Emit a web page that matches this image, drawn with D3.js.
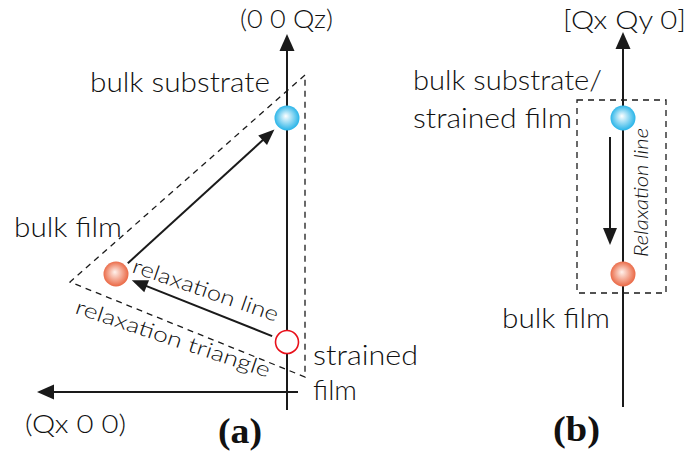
<!DOCTYPE html>
<html>
<head>
  <meta charset="utf-8">
  <title>Relaxation triangle sketch</title>
  <style>
  body { margin: 0px; background: #fff; }
  text { font-family: "Lato", "DejaVu Sans", sans-serif; font-weight: 300; fill: #111; }
  .axis { stroke: #1a1a1a; stroke-width: 2px; fill: none; }
  .arrow { stroke: #1a1a1a; stroke-width: 2px; fill: none; }
  .dash { stroke: #1a1a1a; stroke-width: 1.3px; fill: none; stroke-dasharray: 6,5; }
  .panel { font-family: "Liberation Serif", "Times New Roman", serif; font-weight: bold; }
  </style>
</head>
<body>
  <svg width="685" height="457"></svg>
  <script src="https://d3js.org/d3.v7.min.js"></script>
  <script>
  // reciprocal-space positions, arbitrary units (panel a: Qx along, Qz up)
  var pointNames = ["bulk substrate", "bulk film", "strained film"];
  var pointQx = [0, 6.84, 0];
  var pointQz = [10.96, 4.72, 2.0];
  var triangleQx = [-0.72, 8.68, -0.72];
  var triangleQz = [12.68, 4.4, 0.6];
  var axisAQx = [-0.44, 10];
  var axisAQz = [-0.72, 14.32];

  // panel b: in-plane [Qx Qy 0] direction
  var pointBNames = ["bulk substrate/strained film", "bulk film"];
  var pointBQ = [10.96, 4.72];
  var boxBSide = [-1.84, 1.72];
  var boxBQ = [3.96, 11.68];
  var axisBQ = [-0.6, 14.4];
  var relaxBOffset = -0.52;
  var relaxBQ = [10.2, 5.88];

  var svg = d3.select("svg");
  var xA = d3.scaleLinear().domain([0, 10]).range([287, 37]);
  var y = d3.scaleLinear().domain([0, 10]).range([392, 142]);
  var xB = d3.scaleLinear().domain([0, 1]).range([623, 648]);

  var defs = svg.append("defs");
  function grad(id, c0, c1) {
    var g = defs.append("radialGradient").attr("id", id)
      .attr("cx", "50%").attr("cy", "50%").attr("r", "55%")
      .attr("fx", "45%").attr("fy", "42%");
    g.append("stop").attr("offset", "0%").attr("stop-color", c0);
    g.append("stop").attr("offset", "100%").attr("stop-color", c1);
  }
  grad("blue", "#ffffff", "#14ade6");
  grad("orange", "#fff2ec", "#e85c36");

  function arrowLine(x1, y1, x2, y2, len, hw) {
    var dx = x2 - x1, dy = y2 - y1, d = Math.sqrt(dx * dx + dy * dy);
    var ux = dx / d, uy = dy / d;
    svg.append("line").attr("class", "arrow")
      .attr("x1", x1).attr("y1", y1)
      .attr("x2", x2 - ux * len * 0.7).attr("y2", y2 - uy * len * 0.7);
    var bx = x2 - ux * len, by = y2 - uy * len;
    svg.append("path")
      .attr("d", "M" + x2 + "," + y2 +
        "L" + (bx - uy * hw) + "," + (by + ux * hw) +
        "L" + (bx + uy * hw) + "," + (by - ux * hw) + "Z")
      .attr("fill", "#1a1a1a");
  }

  // ---------- panel (a) ----------
  svg.append("polygon").attr("class", "dash")
    .attr("points", triangleQx.map(function(q, i) { return xA(q) + "," + y(triangleQz[i]); }).join(" "));

  arrowLine(xA(0), y(axisAQz[0]), xA(0), y(axisAQz[1]), 17, 7.5);
  arrowLine(xA(axisAQx[0]), y(0), xA(axisAQx[1]), y(0), 17, 7.5);

  // arrows between the reciprocal lattice points
  function between(i, j, s0, s1) {
    var x1 = xA(pointQx[i]), y1 = y(pointQz[i]), x2 = xA(pointQx[j]), y2 = y(pointQz[j]);
    var dx = x2 - x1, dy = y2 - y1, d = Math.sqrt(dx * dx + dy * dy);
    arrowLine(x1 + dx / d * s0, y1 + dy / d * s0, x2 - dx / d * s1, y2 - dy / d * s1, 16, 6.5);
  }
  between(1, 0, 16, 17);
  between(2, 1, 16, 17);

  var fills = ["url(#blue)", "url(#orange)", "#fff"];
  svg.selectAll(".ptA").data(pointNames).enter().append("circle")
    .attr("class", "ptA")
    .attr("cx", function(d, i) { return xA(pointQx[i]); })
    .attr("cy", function(d, i) { return y(pointQz[i]); })
    .attr("r", function(d, i) { return i == 2 ? 11.5 : 12.5; })
    .attr("fill", function(d, i) { return fills[i]; })
    .attr("stroke", function(d, i) { return i == 2 ? "#e8101a" : "none"; })
    .attr("stroke-width", 1.6);

  function label(t, x, yy, size, len) {
    var el = svg.append("text").attr("x", x).attr("y", yy)
      .attr("font-size", size).text(t);
    if (len) el.attr("textLength", len).attr("lengthAdjust", "spacingAndGlyphs");
    return el;
  }
  label("(0 0 Qz)", 240, 28, 25, 93);
  label("bulk substrate", 90, 92, 27, 180);
  label("bulk film", 14, 237, 27, 108);
  label("strained", 313, 365, 27, 105);
  label("film", 313, 400, 27, 44);
  label("(Qx 0 0)", 25, 433, 25, 101);
  label("relaxation line", 0, 0, 21, 153)
    .attr("transform", "translate(131,272) rotate(19)");
  label("relaxation triangle", 0, 0, 21, 204)
    .attr("transform", "translate(74,313) rotate(18.5)");
  svg.append("text").attr("class", "panel").attr("x", 218).attr("y", 443)
    .attr("font-size", 35).attr("textLength", 44).attr("lengthAdjust", "spacingAndGlyphs")
    .text("(a)");

  // ---------- panel (b) ----------
  svg.append("rect").attr("class", "dash")
    .attr("x", xB(boxBSide[0])).attr("y", y(boxBQ[1]))
    .attr("width", xB(boxBSide[1]) - xB(boxBSide[0]))
    .attr("height", y(boxBQ[0]) - y(boxBQ[1]));

  arrowLine(xB(0), y(axisBQ[0]), xB(0), y(axisBQ[1]), 17, 7.5);
  arrowLine(xB(relaxBOffset), y(relaxBQ[0]), xB(relaxBOffset), y(relaxBQ[1]), 17, 7);

  svg.selectAll(".ptB").data(pointBNames).enter().append("circle")
    .attr("class", "ptB")
    .attr("cx", xB(0))
    .attr("cy", function(d, i) { return y(pointBQ[i]); })
    .attr("r", 12.5)
    .attr("fill", function(d, i) { return fills[i]; });

  label("[Qx Qy 0]", 563, 29, 25, 123);
  label("bulk substrate/", 413, 90, 27, 189);
  label("strained film", 413, 128, 27, 159);
  label("bulk film", 502, 328, 27, 108);
  label("Relaxation line", 0, 0, 20, 129)
    .attr("font-style", "italic")
    .attr("transform", "translate(648,257) rotate(-90)");
  svg.append("text").attr("class", "panel").attr("x", 553).attr("y", 441)
    .attr("font-size", 36).attr("textLength", 47).attr("lengthAdjust", "spacingAndGlyphs")
    .text("(b)");
  </script>
</body>
</html>
